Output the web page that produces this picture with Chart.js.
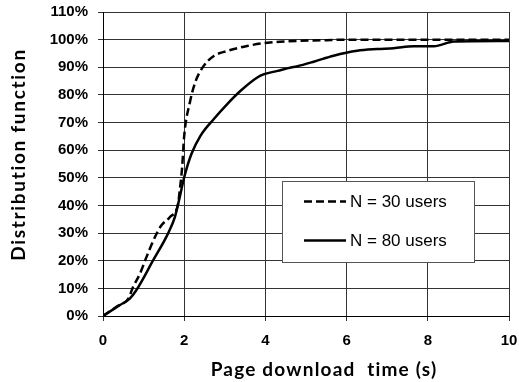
<!DOCTYPE html>
<html>
<head>
<meta charset="utf-8">
<script src="https://cdn.jsdelivr.net/npm/chart.js@4/dist/chart.umd.min.js"></script>
<style>
  html, body { margin: 0; padding: 0; background: #fff; }
  #wrap { width: 519px; height: 382px; position: relative; }
</style>
</head>
<body>
<div id="wrap"><canvas id="cdf"></canvas></div>
<script>
// Page download time (s) and cumulative share of pages (%)
const timeN30 = [0, 0.35, 0.62, 0.74, 0.91, 1.07, 1.28, 1.44, 1.65, 1.85, 1.89, 1.95, 2.0, 2.14, 2.27, 2.48, 2.73, 3.06, 3.55, 4.05, 4.55, 5.5, 6.0, 7.0, 8.0, 9.0, 10.0];
const cdfN30  = [0, 3.5, 6.2, 10.5, 15.3, 21.3, 28.6, 32.8, 35.8, 40.6, 45.4, 53.9, 65.2, 77.3, 84.5, 90.5, 94.1, 95.9, 97.7, 98.9, 99.4, 99.8, 100, 100, 100, 100, 100];

const timeN80 = [0, 0.41, 0.66, 0.82, 1.23, 1.6, 1.77, 1.89, 2.0, 2.18, 2.4, 2.73, 3.06, 3.39, 3.8, 3.97, 4.3, 4.63, 4.77, 5.19, 5.68, 6.26, 6.75, 7.16, 7.65, 8.15, 8.64, 9.14, 10.0];
const cdfN80  = [0, 3.9, 6.3, 9.3, 20.0, 29.8, 35.8, 43.0, 50.2, 58.7, 65.2, 71.3, 76.7, 81.5, 86.3, 87.5, 88.7, 89.9, 90.3, 92.0, 94.2, 96.0, 96.6, 96.9, 97.6, 97.6, 99.3, 99.4, 99.5];

const seriesLabels = ['N = 30 users', 'N = 80 users'];
const xTicks = [0, 2, 4, 6, 8, 10];
const yTicks = [0, 10, 20, 30, 40, 50, 60, 70, 80, 90, 100, 110];
const xTitle = 'Page download  time (s)';
const yTitle = 'Distribution function';

const toPoints = (xs, ys) => xs.map((x, i) => ({ x, y: ys[i] }));

// Legend box inside the plot plus the two axis titles
const overlay = {
  id: 'overlay',
  afterDatasetsDraw(chart) {
    const { ctx, scales } = chart;
    const sx = scales.x, sy = scales.y;
    ctx.save();

    const left = Math.round(sx.getPixelForValue(4.42));
    const right = Math.round(sx.getPixelForValue(9.14));
    const top = Math.round(sy.getPixelForValue(48.8));
    const bottom = Math.round(sy.getPixelForValue(19.4));
    ctx.fillStyle = '#fff';
    ctx.fillRect(left, top, right - left, bottom - top);
    ctx.strokeStyle = '#555';
    ctx.lineWidth = 1;
    ctx.strokeRect(left + 0.5, top + 0.5, right - left, bottom - top);

    chart.data.datasets.forEach((ds, i) => {
      const y = top + 20.5 + i * 39;
      ctx.beginPath();
      ctx.setLineDash(ds.borderDash || []);
      ctx.lineWidth = ds.borderWidth;
      ctx.strokeStyle = ds.borderColor;
      ctx.moveTo(left + 22, y);
      ctx.lineTo(left + 64, y);
      ctx.stroke();
      ctx.setLineDash([]);
      ctx.fillStyle = '#000';
      ctx.font = '17px "Liberation Sans", Arial, sans-serif';
      ctx.textAlign = 'left';
      ctx.textBaseline = 'middle';
      ctx.fillText(ds.label, left + 68, y + 1);
    });

    ctx.fillStyle = '#000';
    ctx.font = 'bold 19px Lato, "Open Sans", sans-serif';
    ctx.letterSpacing = '1.2px';
    ctx.textAlign = 'center';
    ctx.textBaseline = 'alphabetic';
    ctx.fillText(xTitle, 324, 376);

    ctx.letterSpacing = '1.7px';
    ctx.translate(25, 154.5);
    ctx.rotate(-Math.PI / 2);
    ctx.fillText(yTitle, 0, 0);

    ctx.restore();
  }
};

new Chart(document.getElementById('cdf'), {
  type: 'scatter',
  data: {
    datasets: [
      {
        label: seriesLabels[0],
        data: toPoints(timeN30, cdfN30),
        showLine: true,
        borderColor: '#000',
        borderWidth: 2.5,
        borderDash: [8, 4],
        pointRadius: 0,
        cubicInterpolationMode: 'monotone',
        fill: false
      },
      {
        label: seriesLabels[1],
        data: toPoints(timeN80, cdfN80),
        showLine: true,
        borderColor: '#000',
        borderWidth: 2.5,
        pointRadius: 0,
        cubicInterpolationMode: 'monotone',
        fill: false
      }
    ]
  },
  options: {
    responsive: true,
    maintainAspectRatio: false,
    animation: false,
    devicePixelRatio: 1,
    layout: { padding: { top: 12, right: 10, left: 0, bottom: 0 } },
    plugins: { legend: { display: false }, tooltip: { enabled: false } },
    scales: {
      x: {
        type: 'linear',
        min: xTicks[0],
        max: xTicks[xTicks.length - 1],
        afterBuildTicks: s => { s.ticks = xTicks.map(v => ({ value: v })); },
        afterFit: s => { s.height = 66; s.paddingLeft = 0; s.paddingRight = 0; },
        grid: { color: '#333', lineWidth: 1, tickLength: 5, tickColor: '#333' },
        border: { color: '#000', width: 1 },
        ticks: {
          padding: 11,
          color: '#000',
          font: { family: '"Liberation Sans", Arial, sans-serif', size: 15, weight: 'bold' },
          maxRotation: 0
        }
      },
      y: {
        type: 'linear',
        min: yTicks[0],
        max: yTicks[yTicks.length - 1],
        afterBuildTicks: s => { s.ticks = yTicks.map(v => ({ value: v })); },
        afterFit: s => { s.width = 103; s.paddingTop = 0; s.paddingBottom = 0; },
        grid: { color: '#333', lineWidth: 1, tickLength: 5, tickColor: '#333' },
        border: { color: '#000', width: 1 },
        ticks: {
          padding: 10,
          color: '#000',
          font: { family: '"Liberation Sans", Arial, sans-serif', size: 15, weight: 'bold' },
          callback: v => v + '%'
        }
      }
    }
  },
  plugins: [overlay]
});
</script>
</body>
</html>
